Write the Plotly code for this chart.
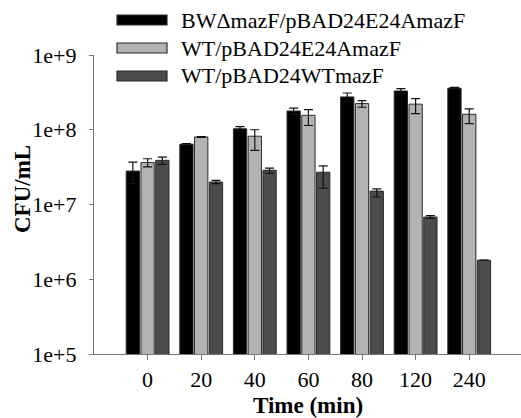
import plotly.graph_objects as go

# Sampling times (min) and the three strains
times = ["0", "20", "40", "60", "80", "120", "240"]
series_names = ["BWΔmazF/pBAD24E24AmazF", "WT/pBAD24E24AmazF", "WT/pBAD24WTmazF"]

# CFU/mL means
bw_e24a = [2.8e7, 6.4e7, 1.03e8, 1.78e8, 2.75e8, 3.3e8, 3.6e8]
wt_e24a = [3.64e7, 8.0e7, 8.2e7, 1.56e8, 2.24e8, 2.2e8, 1.61e8]
wt_wt = [3.9e7, 2.0e7, 2.87e7, 2.7e7, 1.51e7, 6.8e6, 1.8e6]

# error bars (upper / lower)
bw_e24a_up = [0.9e7, 0.15e7, 0.07e8, 0.17e8, 0.35e8, 0.25e8, 0.08e8]
bw_e24a_lo = [0.9e7, 0.15e7, 0.07e8, 0.17e8, 0.35e8, 0.25e8, 0.08e8]
wt_e24a_up = [0.45e7, 0.1e7, 1.8e7, 0.3e8, 0.21e8, 0.41e8, 0.29e8]
wt_e24a_lo = [0.45e7, 0.1e7, 2.9e7, 0.42e8, 0.24e8, 0.56e8, 0.40e8]
wt_wt_up = [0.4e7, 0.1e7, 0.2e7, 0.58e7, 0.11e7, 0.3e6, 0.0]
wt_wt_lo = [0.45e7, 0.1e7, 0.25e7, 1.05e7, 0.25e7, 0.3e6, 0.0]

y_tickvals = [1e5, 1e6, 1e7, 1e8, 1e9]
y_ticktext = ["1e+5", "1e+6", "1e+7", "1e+8", "1e+9"]

fills = ["#000000", "#b3b3b3", "#4b4b4b"]
outline = "#2a2a2a"
FONT = "Liberation Serif, Times New Roman, serif"

fig = go.Figure()
data = [
    (bw_e24a, bw_e24a_up, bw_e24a_lo),
    (wt_e24a, wt_e24a_up, wt_e24a_lo),
    (wt_wt, wt_wt_up, wt_wt_lo),
]
for name, color, (vals, up, lo) in zip(series_names, fills, data):
    fig.add_trace(go.Bar(
        x=times, y=vals, name=name,
        marker=dict(color=color, line=dict(color=outline, width=1)),
        error_y=dict(type="data", symmetric=False, array=up, arrayminus=lo,
                     color="#111111", thickness=1.2, width=4.5),
        showlegend=False,
    ))

# legend drawn as wide swatches with labels
legend_y = [20, 48, 76]
for name, color, yc in zip(series_names, fills, legend_y):
    fig.add_shape(type="rect", xref="paper", yref="paper",
                  x0=(117 - 94) / 427, x1=(167 - 94) / 427,
                  y0=(354 - (yc + 5)) / 299, y1=(354 - (yc - 5)) / 299,
                  fillcolor=color, line=dict(color=outline, width=1.2))
    fig.add_annotation(text=name, xref="paper", yref="paper",
                       x=(179 - 94) / 427, y=(354 - yc) / 299,
                       xanchor="left", yanchor="middle", showarrow=False,
                       font=dict(family=FONT, size=22, color="#000"))

# axis titles
fig.add_annotation(text="<b>CFU/mL</b>", xref="paper", yref="paper",
                   x=(22 - 94) / 427, y=(354 - 189) / 299,
                   xanchor="center", yanchor="middle", textangle=-90,
                   showarrow=False, font=dict(family=FONT, size=23, color="#000"))
fig.add_annotation(text="<b>Time (min)</b>", xref="paper", yref="paper",
                   x=(308 - 94) / 427, y=(354 - 405) / 299,
                   xanchor="center", yanchor="middle",
                   showarrow=False, font=dict(family=FONT, size=23, color="#000"))

fig.update_layout(
    width=521, height=418,
    margin=dict(l=94, r=0, t=55, b=64),
    paper_bgcolor="white", plot_bgcolor="white",
    barmode="group", bargap=0.174, bargroupgap=0.1,
    font=dict(family=FONT, size=22, color="#000"),
    xaxis=dict(type="category", range=[-1, 6.966], showgrid=False,
               showline=True, linecolor="#777777", linewidth=1.2,
               ticks="outside", ticklen=5, tickcolor="#777777", tickwidth=1,
               tickfont=dict(family=FONT, size=22, color="#000"),
               zeroline=False),
    yaxis=dict(type="log", range=[5, 9], showgrid=False,
               showline=True, linecolor="#777777", linewidth=1.2,
               ticks="outside", ticklen=4, tickcolor="#777777", tickwidth=1,
               tickvals=y_tickvals, ticktext=y_ticktext,
               tickfont=dict(family=FONT, size=22, color="#000"),
               ticklabelstandoff=8, zeroline=False),
)

fig.write_html("out.html")
